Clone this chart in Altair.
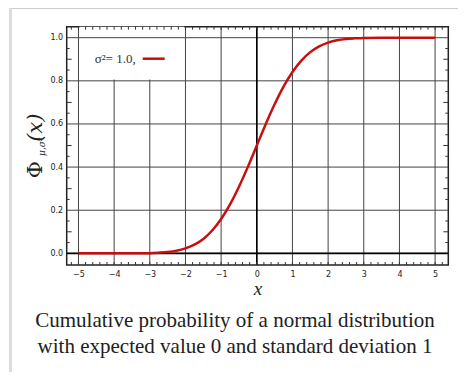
import altair as alt
import pandas as pd

# Curve values (cumulative probability)
x_vals = [-5, -4.5, -4, -3.5, -3, -2.75, -2.5, -2.25, -2, -1.75, -1.5, -1.25, -1,
          -0.75, -0.5, -0.25, 0, 0.25, 0.5, 0.75, 1, 1.25, 1.5, 1.75, 2, 2.25,
          2.5, 2.75, 3, 3.5, 4, 4.5, 5]
cdf_vals = [0.0, 0.0, 0.0, 0.0, 0.001, 0.003, 0.006, 0.012, 0.023, 0.040, 0.067,
            0.106, 0.159, 0.227, 0.309, 0.401, 0.5, 0.599, 0.691, 0.773, 0.841,
            0.894, 0.933, 0.960, 0.977, 0.988, 0.994, 0.997, 0.999, 1.0, 1.0, 1.0, 1.0]

x_major = [-5, -4, -3, -2, -1, 0, 1, 2, 3, 4, 5]
y_major = [0.0, 0.2, 0.4, 0.6, 0.8, 1.0]
x_minor = [round(-5.2 + 0.2 * i, 1) for i in range(53)]
y_minor_long = [0.1, 0.3, 0.5, 0.7, 0.9]
y_minor_short = [0.05, 0.15, 0.25, 0.35, 0.45, 0.55, 0.65, 0.75, 0.85, 0.95]
zero_lines = [0]
legend_label = ["σ²= 1.0,"]
legend_box_x = [-4.97, -2.03]
legend_box_y = [1.051, 0.806]
caption = ["Cumulative probability of a normal distribution",
           "with expected value 0 and standard deviation 1"]

W, H = 381.6, 238.3
RED = "#c80f0f"
GRID = "#444444"
xs = alt.Scale(domain=[-5.33, 5.37], nice=False, zero=False)
ys = alt.Scale(domain=[-0.054, 1.051], nice=False, zero=False)

df = pd.DataFrame({"x": x_vals, "p": cdf_vals})

base_axes = alt.Chart(df).mark_line(opacity=0).encode(
    x=alt.X("x:Q", scale=xs, title="x",
            axis=alt.Axis(values=x_major, tickCount=30, format="d", title="x",
                          labelPadding=5, titlePadding=1, labelOverlap=False,
                          labelFlush=False)),
    y=alt.Y("p:Q", scale=ys, title="",
            axis=alt.Axis(values=y_major, tickCount=30, format=".1f", title="",
                          labelPadding=4, labelOverlap=False, labelFlush=False)),
)

curve = alt.Chart(df).mark_line(color=RED, strokeWidth=2.5, interpolate="monotone").encode(
    x=alt.X("x:Q", scale=xs, title="x"),
    y=alt.Y("p:Q", scale=ys, title=""),
)

vgrid = alt.Chart(pd.DataFrame({"x": x_major})).mark_rule(color=GRID, strokeWidth=1).encode(
    x=alt.X("x:Q", scale=xs, title="x"))
hgrid = alt.Chart(pd.DataFrame({"p": y_major})).mark_rule(color=GRID, strokeWidth=1).encode(
    y=alt.Y("p:Q", scale=ys, title=""))

legend_box = alt.Chart(pd.DataFrame({"x": legend_box_x[:1], "x2": legend_box_x[1:],
                                     "p": legend_box_y[:1], "p2": legend_box_y[1:]})
                       ).mark_rect(color="white").encode(
    x=alt.X("x:Q", scale=xs, title="x"), x2="x2:Q",
    y=alt.Y("p:Q", scale=ys, title=""), y2="p2:Q")

zdf = pd.DataFrame({"x": zero_lines, "p": zero_lines})
zero_v = alt.Chart(zdf).mark_rule(color="#000", strokeWidth=1.6).encode(
    x=alt.X("x:Q", scale=xs, title="x"))
zero_h = alt.Chart(zdf).mark_rule(color="#000", strokeWidth=1.6).encode(
    y=alt.Y("p:Q", scale=ys, title=""))

xm = pd.DataFrame({"x": x_minor})
tick_bottom = alt.Chart(xm).mark_rule(color="#333", strokeWidth=1).encode(
    x=alt.X("x:Q", scale=xs, title="x"), y=alt.value(H), y2=alt.value(H - 3))
tick_top = alt.Chart(xm).mark_rule(color="#333", strokeWidth=1).encode(
    x=alt.X("x:Q", scale=xs, title="x"), y=alt.value(0), y2=alt.value(3))

yl = pd.DataFrame({"p": y_minor_long})
ysh = pd.DataFrame({"p": y_minor_short})
tick_left_l = alt.Chart(yl).mark_rule(color="#333", strokeWidth=1).encode(
    y=alt.Y("p:Q", scale=ys, title=""), x=alt.value(0), x2=alt.value(5))
tick_left_s = alt.Chart(ysh).mark_rule(color="#333", strokeWidth=1).encode(
    y=alt.Y("p:Q", scale=ys, title=""), x=alt.value(0), x2=alt.value(3))
tick_right_l = alt.Chart(yl).mark_rule(color="#333", strokeWidth=1).encode(
    y=alt.Y("p:Q", scale=ys, title=""), x=alt.value(W), x2=alt.value(W - 5))
tick_right_s = alt.Chart(ysh).mark_rule(color="#333", strokeWidth=1).encode(
    y=alt.Y("p:Q", scale=ys, title=""), x=alt.value(W), x2=alt.value(W - 3))

legend_text = alt.Chart(pd.DataFrame({"t": legend_label})).mark_text(
    align="left", baseline="middle", font="Liberation Serif", fontSize=13, color="#333"
).encode(text="t:N", x=alt.value(28), y=alt.value(32))
legend_line = alt.Chart(pd.DataFrame({"t": legend_label})).mark_rule(
    color=RED, strokeWidth=2.5).encode(x=alt.value(76), x2=alt.value(98), y=alt.value(32))

yt_phi = alt.Chart(pd.DataFrame({"t": ["Φ"]})).mark_text(
    angle=270, align="center", baseline="middle", font="DejaVu Serif", fontSize=21, color="#222"
).encode(text="t:N", x=alt.value(-31), y=alt.value(143))
yt_sub = alt.Chart(pd.DataFrame({"t": ["μ,σ²"]})).mark_text(
    angle=270, align="center", baseline="middle", font="DejaVu Serif", fontSize=9,
    fontStyle="italic", color="#222"
).encode(text="t:N", x=alt.value(-25), y=alt.value(120))
yt_x = alt.Chart(pd.DataFrame({"t": ["(x)"]})).mark_text(
    angle=270, align="center", baseline="middle", font="DejaVu Serif", fontSize=21,
    fontStyle="italic", color="#222"
).encode(text="t:N", x=alt.value(-31), y=alt.value(101))

cap1 = alt.Chart(pd.DataFrame({"t": caption[:1]})).mark_text(
    align="center", baseline="alphabetic", font="Liberation Serif", fontSize=21, color="#202122"
).encode(text="t:N", x=alt.value(168.3), y=alt.value(300.5))
cap2 = alt.Chart(pd.DataFrame({"t": caption[1:]})).mark_text(
    align="center", baseline="alphabetic", font="Liberation Serif", fontSize=21, color="#202122"
).encode(text="t:N", x=alt.value(168.3), y=alt.value(326.5))

border = pd.DataFrame({"t": [0]})
border_top = alt.Chart(border).mark_rule(color="#cccccc", strokeWidth=1).encode(
    x=alt.value(-56.7), x2=alt.value(400), y=alt.value(-18.2))
border_left = alt.Chart(border).mark_rule(color="#dcdcdc", strokeWidth=3).encode(
    x=alt.value(-56.2), y=alt.value(-18.7), y2=alt.value(360))

chart = alt.layer(
    base_axes,
    border_top, border_left,
    vgrid, legend_box, hgrid,
    zero_v, zero_h,
    tick_bottom, tick_top, tick_left_l, tick_left_s, tick_right_l, tick_right_s,
    curve,
    legend_line, legend_text,
    yt_phi, yt_sub, yt_x,
    cap1, cap2,
).properties(
    width=W, height=H, autosize="none",
    padding={"left": 58.7, "top": 18.7, "right": 9.7, "bottom": 107},
).configure_view(
    stroke="#222", strokeWidth=1.5
).configure_axis(
    grid=False, domain=False, ticks=False,
    labelFont="DejaVu Sans", labelFontSize=8, labelColor="#222",
    labelOverlap=False, labelFlush=False,
    titleFont="Liberation Serif", titleFontSize=19, titleFontStyle="italic",
    titleFontWeight="normal", titleColor="#222",
)

chart.save("out.html", embed_options={"renderer": "svg", "actions": False})
